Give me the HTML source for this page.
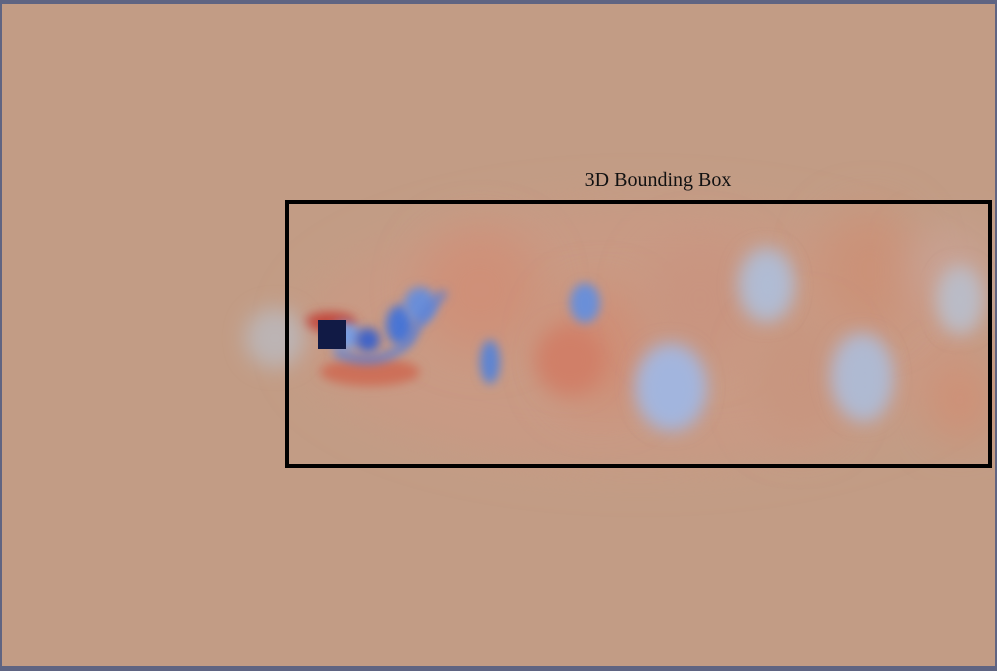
<!DOCTYPE html>
<html><head><meta charset="utf-8"><style>
html,body{margin:0;padding:0;background:#5f6482;}
#wrap{position:relative;width:997px;height:671px;overflow:hidden;background:#5f6482;}
svg{position:absolute;left:0;top:0;}
</style></head><body>
<div id="wrap">
<svg width="997" height="671" viewBox="0 0 997 671">
<defs>
<filter id="b8" x="-50%" y="-50%" width="200%" height="200%"><feGaussianBlur stdDeviation="10"/></filter>
<filter id="b16" x="-50%" y="-50%" width="200%" height="200%"><feGaussianBlur stdDeviation="22"/></filter>
<filter id="b3" x="-50%" y="-50%" width="200%" height="200%"><feGaussianBlur stdDeviation="5"/></filter>
<clipPath id="c"><rect x="2" y="4" width="993" height="662"/></clipPath>
</defs>
<rect x="2" y="4" width="993" height="662" fill="#c29c85"/>
<g clip-path="url(#c)" id="blobs"></g>
<rect x="318" y="320" width="28" height="29" fill="#111a45"/>
<rect x="287" y="202" width="703" height="264" fill="none" stroke="#000" stroke-width="4"/>
<text x="658" y="186" text-anchor="middle" font-family="Liberation Serif, serif" font-size="20" fill="#111">3D Bounding Box</text>
</svg>
</div>
<script>
// wake blobs: cx, cy, rx, ry, color, blur
const blobX=[640,480,600,700,870,570,800,960,950,765,670,860,960,330,370,400,420,490,585,672,768,865,960,275,345,368];
const blobY=[335,290,350,300,270,360,380,400,270,285,385,375,300,322,372,325,305,362,303,390,285,380,300,338,336,340];
const blobRX=[340,60,50,55,50,35,45,30,40,25,32,28,20,26,50,14,16,10,15,30,22,24,18,30,16,12];
const blobRY=[130,60,60,60,60,35,60,40,40,35,40,40,30,10,14,20,18,22,20,38,32,40,32,30,14,12];
const blobC=['#c99a84','#cf9078','#cf8e76','#c99480','#cb9278','#d07f68','#c8957f','#d08f75','#c9a294','#b5b6c5','#a9b6da','#b2b8d0','#c1b8bb','#c24a3e','#cd7058','#4a74d4','#6a8ed8','#5d84d2','#6b8fd8','#a2b5de','#b0bcd4','#afbad2','#b9bcc8','#bcb4b4','#7c9ee0','#4064c8'];
const blobB=['b16','b16','b16','b16','b16','b8','b16','b16','b16','b8','b8','b8','b8','b3','b3','b3','b3','b3','b3','b8','b8','b8','b8','b8','b3','b3'];
const g=document.getElementById('blobs');
for(let i=0;i<blobX.length;i++){
  const e=document.createElementNS('http://www.w3.org/2000/svg','ellipse');
  e.setAttribute('cx',blobX[i]);e.setAttribute('cy',blobY[i]);
  e.setAttribute('rx',blobRX[i]);e.setAttribute('ry',blobRY[i]);
  e.setAttribute('fill',blobC[i]);e.setAttribute('filter','url(#'+blobB[i]+')');
  
  
  g.appendChild(e);
}
// shear-layer curve
const p=document.createElementNS('http://www.w3.org/2000/svg','path');
p.setAttribute('d','M335 352 Q380 372 410 340 Q425 310 445 292');
p.setAttribute('stroke','#5a7fd4');p.setAttribute('stroke-width','7');p.setAttribute('fill','none');
p.setAttribute('filter','url(#b3)');


g.appendChild(p);
</script>
</body></html>
